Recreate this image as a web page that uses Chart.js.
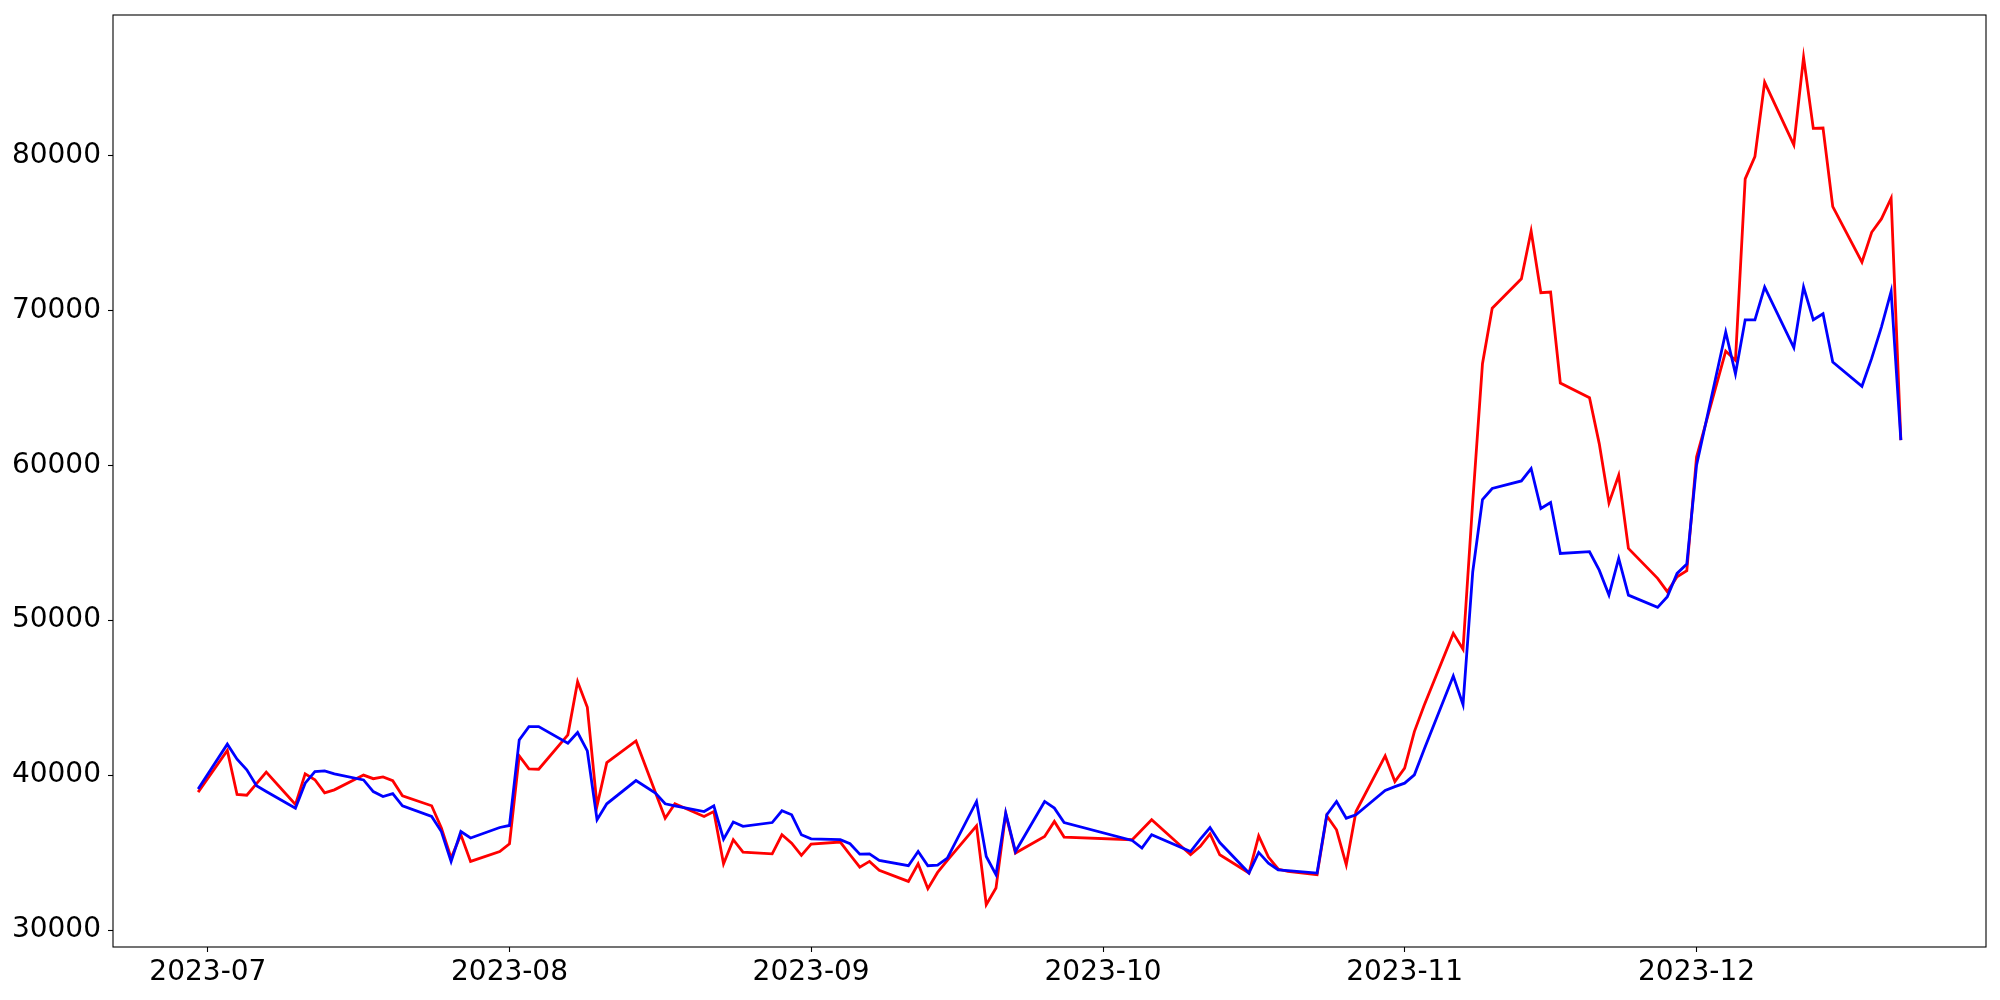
<!DOCTYPE html>
<html>
<head>
<meta charset="utf-8">
<title>Price lines</title>
<script src="https://cdn.jsdelivr.net/npm/chart.js@4/dist/chart.umd.min.js"></script>
<style>
  html, body { margin: 0; padding: 0; background: #fff; }
  #chart { display: block; }
</style>
</head>
<body>
<canvas id="chart" width="2000" height="1000"></canvas>
<script>
// Trading days (weekdays, market holidays skipped)
const dates = [
  '2023-06-30',
  '2023-07-03','2023-07-04','2023-07-05','2023-07-06','2023-07-07',
  '2023-07-10','2023-07-11','2023-07-12','2023-07-13','2023-07-14',
  '2023-07-17','2023-07-18','2023-07-19','2023-07-20','2023-07-21',
  '2023-07-24','2023-07-25','2023-07-26','2023-07-27','2023-07-28','2023-07-31',
  '2023-08-01','2023-08-02','2023-08-03','2023-08-04',
  '2023-08-07','2023-08-08','2023-08-09','2023-08-10','2023-08-11',
  '2023-08-14','2023-08-16','2023-08-17','2023-08-18',
  '2023-08-21','2023-08-22','2023-08-23','2023-08-24','2023-08-25',
  '2023-08-28','2023-08-29','2023-08-30','2023-08-31','2023-09-01',
  '2023-09-04','2023-09-05','2023-09-06','2023-09-07','2023-09-08',
  '2023-09-11','2023-09-12','2023-09-13','2023-09-14','2023-09-15',
  '2023-09-18','2023-09-19','2023-09-20','2023-09-21','2023-09-22',
  '2023-09-25','2023-09-26','2023-09-27',
  '2023-10-04','2023-10-05','2023-10-06',
  '2023-10-10','2023-10-11','2023-10-12','2023-10-13',
  '2023-10-16','2023-10-17','2023-10-18','2023-10-19','2023-10-20',
  '2023-10-23','2023-10-24','2023-10-25','2023-10-26','2023-10-27',
  '2023-10-30','2023-10-31','2023-11-01','2023-11-02','2023-11-03',
  '2023-11-06','2023-11-07','2023-11-08','2023-11-09','2023-11-10',
  '2023-11-13','2023-11-14','2023-11-15','2023-11-16','2023-11-17',
  '2023-11-20','2023-11-21','2023-11-22','2023-11-23','2023-11-24',
  '2023-11-27','2023-11-28','2023-11-29','2023-11-30','2023-12-01',
  '2023-12-04','2023-12-05','2023-12-06','2023-12-07','2023-12-08',
  '2023-12-11','2023-12-12','2023-12-13','2023-12-14','2023-12-15',
  '2023-12-18','2023-12-19','2023-12-20','2023-12-21','2023-12-22'
];

const redValues = [
  38900,
  41600, 38750, 38700, 39450, 40200,
  38100, 40080, 39700, 38850, 39050,
  40000, 39770, 39880, 39640, 38670,
  38020, 36590, 34650, 36150, 34430, 35070,
  35570, 41240, 40400, 40380,
  42600, 46030, 44380, 38020, 40810,
  42210, 38880, 37220, 38150,
  37330, 37650, 34280, 35830, 35030,
  34920, 36150, 35610, 34820, 35550,
  35680, 34860, 34060, 34430, 33850,
  33140, 34280, 32670, 33720, 34490,
  36730, 31640, 32710, 37500, 34970,
  36040, 37010, 36000,
  35830, 36470, 37120,
  34860, 35400, 36210, 34860,
  33680, 36080, 34710, 33940, 33780,
  33570, 37370, 36470, 34210, 37650,
  41240, 39590, 40450, 42810, 44490,
  49150, 48120, 57660, 66560, 70140,
  72040, 75120, 71140, 71180, 65310,
  64360, 61400, 57570, 59360, 54630,
  52700, 51840, 52800, 53190, 60540,
  67370, 66770, 78490, 79920, 84720,
  80680, 86330, 81750, 81770, 76700,
  73110, 75040, 75900, 77240, 61620
];

const blueValues = [
  39100,
  42000, 41030, 40340, 39310, 38940,
  37870, 39480, 40230, 40270, 40080,
  39690, 38940, 38620, 38810, 38020,
  37330, 36360, 34430, 36360, 35940, 36620,
  36750, 42270, 43130, 43130,
  42060, 42750, 41560, 37120, 38150,
  39650, 38840, 38150, 38020,
  37650, 38020, 35870, 36970, 36690,
  36940, 37700, 37440, 36150, 35890,
  35830, 35570, 34900, 34920, 34500,
  34150, 35070, 34150, 34190, 34640,
  38300, 34750, 33570, 37550, 35070,
  38300, 37870, 36940,
  35780, 35290, 36150,
  35070, 35870, 36620, 35650,
  33680, 35010, 34320, 33890, 33830,
  33680, 37440, 38300, 37220, 37440,
  39010, 39260, 39480, 40020, 41650,
  46400, 44550, 53130, 57790, 58500,
  58990, 59790, 57210, 57600, 54310,
  54420, 53230, 51620, 53990, 51620,
  50830, 51520, 53020, 53620, 60000,
  68600, 65910, 69390, 69390, 71500,
  67590, 71500, 69390, 69780, 66660,
  65100, 66900, 68920, 71220, 61620
];

const tickDates = ['2023-07-01', '2023-08-01', '2023-09-01', '2023-10-01', '2023-11-01', '2023-12-01'];
const tickLabels = ['2023-07', '2023-08', '2023-09', '2023-10', '2023-11', '2023-12'];
const yTicks = [30000, 40000, 50000, 60000, 70000, 80000];

// day number for a date string
const DAY = 86400000;
function toDay(s) {
  const p = s.split('-').map(Number);
  return Date.UTC(p[0], p[1] - 1, p[2]) / DAY;
}
const xs = dates.map(toDay);

// matplotlib style 5% margins
const xSpan = xs[xs.length - 1] - xs[0];
const allY = redValues.concat(blueValues);
const yLo = Math.min(...allY), yHi = Math.max(...allY);
const ySpan = yHi - yLo;

Chart.defaults.font.family = '"DejaVu Sans", sans-serif';
Chart.defaults.font.size = 28;
Chart.defaults.color = '#000';

// black box round the plot area
const frame = {
  id: 'frame',
  afterDatasetsDraw(chart) {
    const { ctx, chartArea: a } = chart;
    ctx.save();
    ctx.strokeStyle = '#000';
    ctx.lineWidth = 1.1;
    ctx.strokeRect(a.left, a.top, a.right - a.left, a.bottom - a.top);
    ctx.restore();
  }
};

const tickGrid = {
  display: true,
  drawOnChartArea: false,
  drawTicks: true,
  tickLength: 5,
  tickWidth: 1.1,
  tickColor: '#000'
};

new Chart(document.getElementById('chart'), {
  type: 'line',
  data: {
    datasets: [
      {
        label: 'blue',
        data: xs.map((x, i) => ({ x: x, y: blueValues[i] })),
        borderColor: '#0000ff',
        borderWidth: 2.8,
        pointRadius: 0,
        tension: 0,
        fill: false
      },
      {
        label: 'red',
        data: xs.map((x, i) => ({ x: x, y: redValues[i] })),
        borderColor: '#ff0000',
        borderWidth: 2.8,
        pointRadius: 0,
        tension: 0,
        fill: false
      }
    ]
  },
  options: {
    responsive: false,
    animation: false,
    devicePixelRatio: 1,
    layout: { padding: { top: 15, right: 14, left: 0, bottom: 0 } },
    plugins: {
      legend: { display: false },
      tooltip: { enabled: false }
    },
    scales: {
      x: {
        type: 'linear',
        min: xs[0] - 0.05 * xSpan,
        max: xs[xs.length - 1] + 0.05 * xSpan,
        grid: tickGrid,
        border: { display: false },
        afterBuildTicks: (scale) => {
          scale.ticks = tickDates.map(d => ({ value: toDay(d) }));
        },
        afterFit: (scale) => {
          scale.height = 53;
          scale.paddingLeft = 0;
          scale.paddingRight = 0;
        },
        ticks: {
          autoSkip: false,
          maxRotation: 0,
          padding: 4,
          callback: (value) => {
            const i = tickDates.findIndex(d => toDay(d) === value);
            return i >= 0 ? tickLabels[i] : '';
          }
        }
      },
      y: {
        type: 'linear',
        min: yLo - 0.05 * ySpan,
        max: yHi + 0.05 * ySpan,
        grid: tickGrid,
        border: { display: false },
        afterBuildTicks: (scale) => {
          scale.ticks = yTicks.map(v => ({ value: v }));
        },
        afterFit: (scale) => {
          scale.width = 113;
          scale.paddingTop = 0;
          scale.paddingBottom = 0;
        },
        ticks: {
          padding: 7,
          callback: (value) => String(value)
        }
      }
    }
  },
  plugins: [frame]
});
</script>
</body>
</html>
